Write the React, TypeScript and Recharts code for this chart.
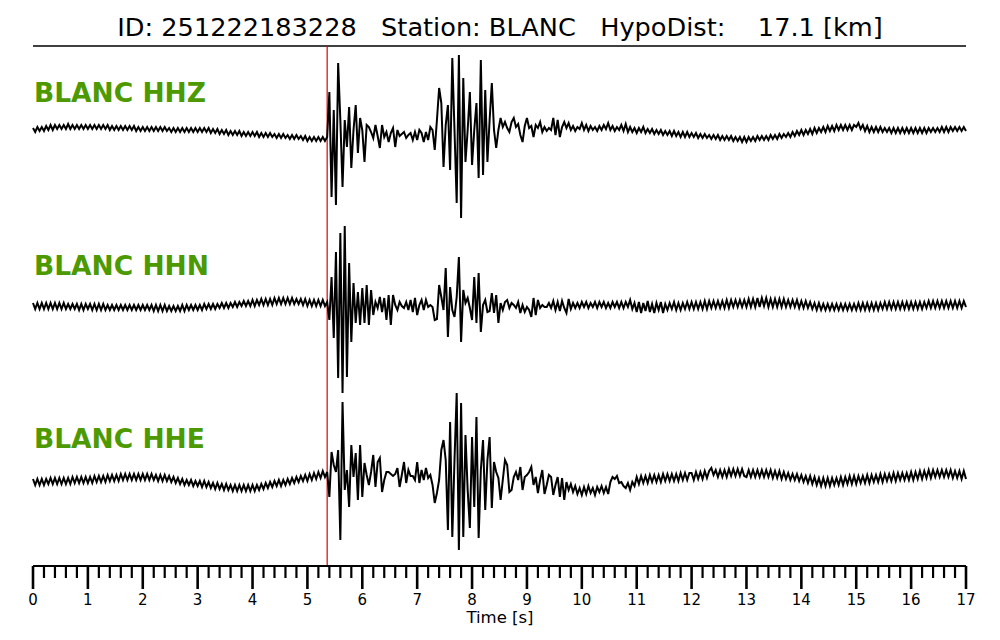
import { LineChart, Line, XAxis, YAxis, ReferenceLine } from "recharts";

// sample step of the traces, seconds
const DT = 0.04;
const pPick = 5.36;
const titleText = "ID: 251222183228   Station: BLANC   HypoDist:    17.1 [km]";
const traceLabels = ["BLANC HHZ", "BLANC HHN", "BLANC HHE"];
const xTicks = Array.from({ length: 86 }, (_, k) => k / 5);

// amplitudes, one row per second
const hhz = [
  2, -2, 3, -1, 3, -1, 4, 0, 5, 0, 5, 1, 5, 1, 5, 1, 6, 1, 5, 1, 5, 1, 5, 1, 5,
  1, 5, 1, 5, 1, 5, 1, 5, 1, 5, 0, 4, 0, 4, 0, 4, 0, 4, 0, 4, 0, 4, -1, 3, -1,
  3, -1, 3, -1, 3, -1, 3, -1, 3, -1, 3, -1, 2, -2, 2, -2, 2, -2, 2, -2, 2, -2, 2, -2, 2,
  -2, 2, -2, 2, -2, 2, -3, 1, -3, 1, -4, 0, -4, 0, -5, -1, -5, -1, -5, -1, -6, -2, -6, -2, -6,
  -2, -6, -2, -7, -3, -7, -3, -7, -3, -7, -4, -8, -4, -8, -4, -8, -5, -9, -5, -9, -5, -9, -6, -10, -6,
  -11, -7, -11, -7, -11, -7, -11, -7, -11, -7, 38, -67, 20, -75, 67, 10, -57, 10, -17, 23, -38, 0, 25, -23, 12,
  0, -32, 5, 3, -2, -8, 5, -6, -18, 5, -7, -2, -12, -3, 2, -17, 0, -6, -4, -2, -8, -5, -3, -10, -2,
  -10, 0, -3, -12, -2, -10, 3, 0, -20, 10, 42, 27, -37, 5, 25, -40, 72, 0, -73, 75, -88, 52, -32, 0, 38,
  -35, 0, 27, -48, 70, -45, 40, -32, 10, 47, 0, -18, 0, 12, 3, 8, 2, -2, 8, 12, 3, 6, -5, -12, 4,
  12, 2, 4, -7, 5, 2, 8, -2, 3, -1, 2, 0, 12, -5, 10, -7, 3, 8, 2, 7, 0, 4, -1, 3, 1,
  7, 0, 5, -1, 4, 0, 3, -1, 4, 0, 5, 1, 7, 0, 4, -1, 3, 0, 5, -1, 6, -2, 3, -2, 2,
  -3, 2, -2, 3, -3, 1, -3, 1, -4, 0, -4, 0, -5, -1, -5, -1, -6, -1, -6, -2, -7, -2, -7, -2, -7,
  -3, -7, -3, -8, -4, -8, -4, -8, -5, -9, -5, -9, -5, -10, -6, -10, -6, -10, -6, -11, -7, -11, -7, -12, -7,
  -12, -7, -11, -7, -11, -6, -10, -6, -10, -6, -10, -5, -9, -5, -9, -4, -8, -4, -7, -3, -7, -2, -6, -1, -5,
  0, -5, 0, -4, 1, -4, 2, -3, 2, -2, 3, -2, 4, -1, 4, -1, 5, 0, 5, 0, 5, 0, 5, 0, 5,
  3, 7, 1, 5, -1, 4, -2, 3, -2, 3, -2, 3, -2, 2, -2, 2, -3, 2, -3, 2, -3, 2, -3, 2, -3,
  2, -3, 2, -3, 2, -3, 2, -3, 2, -2, 2, -2, 2, -2, 3, -2, 3, -2, 3, -1, 3, -1, 3, -1, 3,
  -1,
];

const hhn = [
  2, -4, 2, -4, 2, -4, 2, -4, 2, -4, 2, -4, 2, -4, 2, -4, 1, -4, 1, -4, 1, -5, 1, -5, 1,
  -4, 1, -5, 1, -5, 1, -5, 1, -5, 0, -5, 0, -5, 0, -5, 0, -5, 0, -5, 0, -5, 0, -5, 0, -5,
  0, -5, 0, -5, 0, -6, 0, -6, 0, -6, 0, -6, -1, -6, -1, -6, -1, -6, 0, -6, 0, -5, 0, -5, 0,
  -5, 0, -5, 1, -4, 1, -4, 1, -4, 1, -3, 2, -3, 2, -3, 2, -2, 3, -2, 3, -1, 4, -1, 4, -1,
  5, -1, 5, 0, 6, 0, 6, 0, 6, 0, 7, 1, 7, 1, 7, 1, 7, 1, 7, 1, 6, 1, 6, 0, 6,
  -1, 5, -1, 5, -1, 5, -1, 5, -1, 3, -15, 28, -33, 53, -73, 72, -88, 79, -72, 42, -37, 22, -18, 13, -20,
  17, -18, 20, -20, 15, -10, 3, -3, 8, -7, 7, -15, 10, -20, 10, 0, -5, 3, -1, -3, 3, -5, 5, -7, 7,
  -10, 0, 5, -5, 5, -2, 0, -2, -15, -14, 20, 8, -5, 37, -32, 18, -5, -12, 8, 48, -37, 15, 2, 7, -3,
  -15, 28, -18, 32, -27, 0, 5, -7, -6, 12, -8, 10, -18, 2, -5, 3, 5, -3, 2, 0, -3, 3, -8, 0, -7,
  -2, -5, -12, 7, -10, 5, -3, 0, -2, -2, 2, -3, 4, -5, 3, -6, 4, -3, -8, 6, -4, 2, -3, 2, -3,
  3, -2, 3, -3, 2, -2, 3, -3, 3, -2, 3, -3, 2, -3, 3, -2, 3, -3, 3, -3, 3, -2, 5, -4, 2,
  -7, 3, -8, 2, -6, 4, -7, 1, -8, 2, -5, 3, -8, 1, -5, 2, -4, 3, -5, 2, -5, 2, -4, 3, -4,
  3, -4, 3, -4, 3, -4, 4, -4, 4, -3, 4, -3, 4, -3, 4, -3, 5, -3, 5, -2, 5, -2, 5, -2, 5,
  -2, 6, -2, 6, -2, 7, -2, 7, -1, 7, -2, 6, -2, 6, -2, 6, -2, 6, -2, 5, -2, 5, -2, 5, -3,
  4, -3, 4, -3, 3, -4, 2, -5, 2, -5, 1, -5, 1, -5, 1, -5, 1, -5, 1, -5, 1, -5, 1, -5, 1,
  -5, 2, -5, 2, -5, 2, -5, 2, -5, 2, -5, 2, -4, 3, -4, 3, -4, 3, -4, 3, -4, 3, -4, 3, -4,
  3, -4, 3, -4, 3, -4, 3, -3, 4, -3, 4, -3, 4, -3, 4, -3, 4, -3, 4, -3, 4, -3, 4, -3, 4,
  -2,
];

const hhe = [
  1, -5, 1, -5, 1, -5, 1, -4, 2, -4, 2, -4, 2, -4, 2, -4, 2, -4, 3, -3, 3, -3, 3, -3, 3,
  -3, 3, -3, 4, -2, 4, -2, 4, -2, 5, -1, 5, -1, 5, -1, 6, 0, 6, 0, 6, 0, 6, 0, 6, 0,
  6, 0, 6, 0, 6, 0, 5, -1, 5, -1, 5, -1, 4, -2, 3, -3, 2, -4, 1, -5, 0, -5, 0, -6, -1,
  -6, -1, -7, -1, -7, -2, -8, -3, -9, -3, -9, -4, -10, -4, -10, -5, -11, -5, -11, -5, -11, -5, -11, -5, -11,
  -5, -11, -5, -10, -4, -9, -3, -8, -2, -7, -1, -6, 0, -6, 0, -5, 1, -4, 2, -3, 3, -2, 4, -1, 5,
  -1, 6, 0, 7, 1, 8, 2, 9, 3, 8, -17, 28, 15, 8, 30, -60, 78, -10, 10, -27, 35, 3, 27, -20, 35,
  -17, 17, 5, -5, 8, 25, -7, 18, 22, -12, 0, 8, 8, 6, 4, 6, 12, -7, 5, 18, -3, 10, 4, 4, 0,
  18, -3, 10, 0, 12, 2, 5, -5, -23, -13, 0, 30, 40, 20, -50, 58, -57, 20, 87, -70, 77, -57, 45, -10, -48,
  43, -27, 63, -58, 10, 40, -30, 20, 43, -28, 18, 8, 2, -20, 0, 20, 15, -12, -10, 3, 8, 0, 13, -10, 3,
  5, 8, 13, -5, 3, -13, 0, 10, -14, -5, 5, 3, -15, -5, 3, -17, 2, -20, -2, -10, -4, -12, -6, -14, -8,
  -15, -7, -14, -6, -13, -8, -15, -7, -12, -6, -13, -7, -14, -2, 3, 1, 4, -3, -2, -6, -8, -3, -10, -2, -6,
  3, -4, 4, -3, 4, -3, 5, -2, 5, -2, 5, -2, 6, -1, 6, -1, 6, -1, 6, -1, 7, 0, 7, 0, 7,
  7, 0, 8, 1, 8, 1, 9, 2, 9, 12, 5, 10, 3, 10, 3, 10, 3, 11, 4, 11, 4, 11, 4, 11, 4,
  3, 10, 3, 10, 3, 10, 3, 10, 3, 10, 3, 10, 2, 9, 2, 9, 1, 8, 1, 7, 0, 6, 0, 6, -1,
  5, -2, 4, -3, 4, -4, 3, -5, 2, -6, 2, -6, 2, -6, 2, -5, 2, -5, 3, -5, 3, -4, 4, -4, 4,
  -4, 4, -3, 4, -3, 5, -3, 5, -2, 5, -2, 6, -2, 6, -1, 6, -1, 7, -1, 7, 0, 7, 0, 7, 0,
  8, 0, 8, 1, 9, 1, 9, 2, 10, 2, 10, 3, 10, 3, 10, 3, 10, 3, 10, 2, 9, 2, 9, 1, 9,
  1,
];

const data = hhz.map((v, i) => ({
  t: Math.round(i * DT * 100) / 100,
  z: v,
  n: hhn[i],
  e: hhe[i],
}));

const FONT = "DejaVu Sans";

function TimeTick(props: any) {
  const { x, y, payload } = props;
  const v = payload.value;
  const major = Math.abs(v - Math.round(v)) < 1e-6;
  return (
    <g>
      <line x1={x} x2={x} y1={y} y2={y + (major ? 23 : 12)} stroke="#000" strokeWidth={major ? 2.6 : 2.2} />
      {major && (
        <text x={x} y={y + 39} textAnchor="middle" fontSize={15} fontFamily={FONT} fill="#000">
          {Math.round(v)}
        </text>
      )}
    </g>
  );
}

export default function App() {
  return (
    <div style={{ position: "absolute", left: 0, top: 0, width: 1000, height: 640, background: "#fff" }}>
      <LineChart width={1000} height={640} data={data} margin={{ top: 46, right: 34, left: 33, bottom: 14 }}>
        <XAxis
          dataKey="t"
          type="number"
          domain={[0, 17]}
          ticks={xTicks}
          interval={0}
          height={60}
          tickSize={0}
          tickMargin={0}
          tickLine={false}
          axisLine={{ stroke: "#000", strokeWidth: 2 }}
          tick={<TimeTick />}
        />
        <YAxis yAxisId="z" hide domain={[-436, 84]} allowDataOverflow />
        <YAxis yAxisId="n" hide domain={[-261, 259]} allowDataOverflow />
        <YAxis yAxisId="e" hide domain={[-86, 434]} allowDataOverflow />
        <ReferenceLine yAxisId="z" y={84} stroke="#000" strokeWidth={1.5} />
        <ReferenceLine yAxisId="z" x={pPick} stroke="#e00000" strokeWidth={1.2} />
        <Line yAxisId="z" dataKey="z" type="linear" stroke="#000" strokeWidth={2} dot={false} isAnimationActive={false} />
        <Line yAxisId="n" dataKey="n" type="linear" stroke="#000" strokeWidth={2} dot={false} isAnimationActive={false} />
        <Line yAxisId="e" dataKey="e" type="linear" stroke="#000" strokeWidth={2} dot={false} isAnimationActive={false} />
      </LineChart>
      <svg width={1000} height={640} style={{ position: "absolute", left: 0, top: 0, pointerEvents: "none" }}>
        <text x={500} y={36} textAnchor="middle" fontSize={25.6} fontFamily={FONT} fill="#000" style={{ whiteSpace: "pre" }}>
          {titleText}
        </text>
        {traceLabels.map((s, k) => (
          <text key={s} x={34} y={101.5 + k * 173} fontSize={26.5} fontWeight="bold" fontFamily={FONT} fill="#4c9900">
            {s}
          </text>
        ))}
        <text x={500} y={623} textAnchor="middle" fontSize={16.5} fontFamily={FONT} fill="#000">
          Time [s]
        </text>
      </svg>
    </div>
  );
}
